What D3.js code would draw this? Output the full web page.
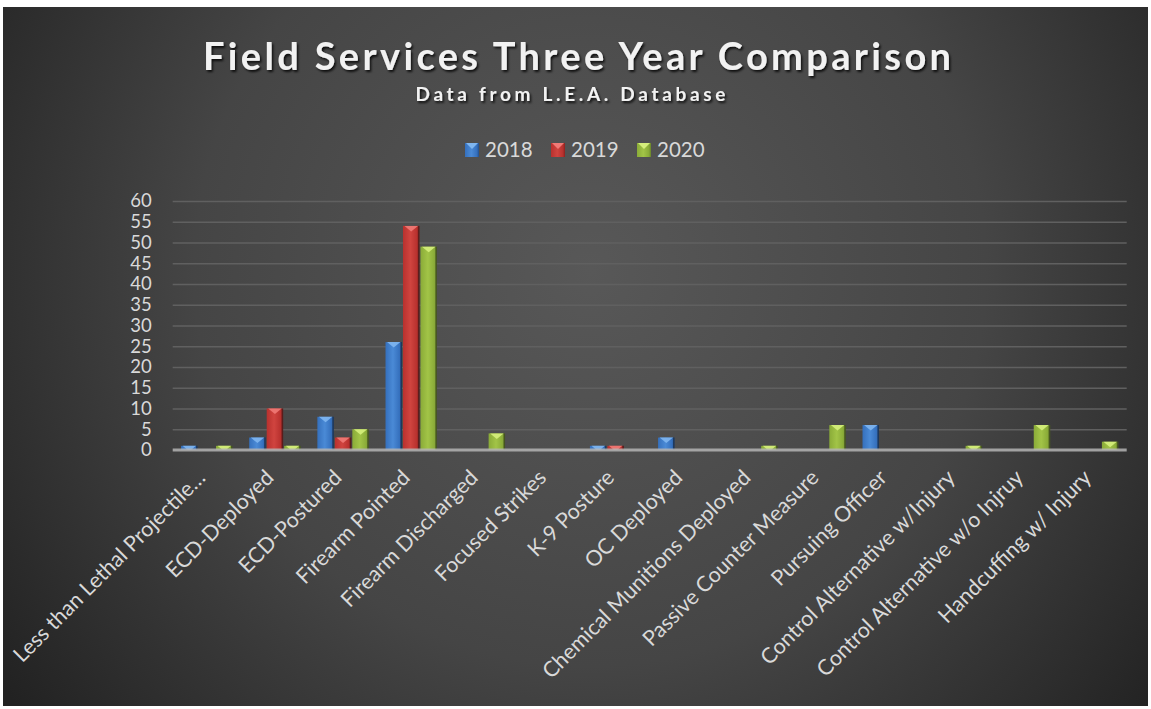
<!DOCTYPE html>
<html>
<head>
<meta charset="utf-8">
<script src="https://cdn.jsdelivr.net/npm/d3@7"></script>
<style>
  body { margin: 0; background: #ffffff; }
  svg text { font-family: Lato, "Open Sans", sans-serif; }
</style>
</head>
<body>
<div id="chart"></div>
<script>
// data
const categories = [
	"Less than Lethal Projectile\u2026", "ECD-Deployed", "ECD-Postured", "Firearm Pointed",
	"Firearm Discharged", "Focused Strikes", "K-9 Posture", "OC Deployed",
	"Chemical Munitions Deployed", "Passive Counter Measure", "Pursuing Officer",
	"Control Alternative w/Injury", "Control Alternative w/o Injruy", "Handcuffing w/ Injury"
]
const years = ["2018", "2019", "2020"]
const values2018 = [1, 3, 8, 26, 0, 0, 1, 3, 0, 0, 6, 0, 0, 0]
const values2019 = [0, 10, 3, 54, 0, 0, 1, 0, 0, 0, 0, 0, 0, 0]
const values2020 = [1, 1, 5, 49, 4, 0, 0, 0, 1, 6, 0, 1, 6, 2]
const yTickValues = [0, 5, 10, 15, 20, 25, 30, 35, 40, 45, 50, 55, 60]

const W = 1151, H = 709
const PLOT = { LEFT: 172.7, RIGHT: 1126.7, TOP: 201, BOTTOM: 450 }

// colours per series: dark edge, base, light centre, top face
const COLORS = {
	"2018": { dark: "#234f8c", base: "#3570bd", light: "#4a8ad6", top: "#7fb6f0" },
	"2019": { dark: "#8a2220", base: "#b8312e", light: "#d0443f", top: "#f07a76" },
	"2020": { dark: "#68832a", base: "#8aab38", light: "#a2c447", top: "#d6ef7c" }
}

const seriesByYear = { "2018": values2018, "2019": values2019, "2020": values2020 }
const rows = categories.map((c, i) => ({
	cat: c,
	vals: years.map(y => ({ year: y, value: seriesByYear[y][i] }))
}))

const svg = d3.select("#chart").append("svg")
	.attr("width", W)
	.attr("height", H)

const defs = svg.append("defs")

const bg = defs.append("radialGradient")
	.attr("id", "bg")
	.attr("gradientUnits", "userSpaceOnUse")
	.attr("cx", 590).attr("cy", 270).attr("r", 720)
bg.append("stop").attr("offset", "0%").attr("stop-color", "#585858")
bg.append("stop").attr("offset", "55%").attr("stop-color", "#454545")
bg.append("stop").attr("offset", "100%").attr("stop-color", "#222222")

years.forEach(y => {
	const c = COLORS[y]
	const g = defs.append("linearGradient")
		.attr("id", "bar" + y)
		.attr("x1", "0%").attr("x2", "100%").attr("y1", "0%").attr("y2", "0%")
	g.append("stop").attr("offset", "0%").attr("stop-color", c.base)
	g.append("stop").attr("offset", "45%").attr("stop-color", c.light)
	g.append("stop").attr("offset", "85%").attr("stop-color", c.base)
	g.append("stop").attr("offset", "100%").attr("stop-color", c.dark)
})

const shadow = defs.append("filter").attr("id", "shadow")
	.attr("x", "-10%").attr("y", "-30%").attr("width", "120%").attr("height", "160%")
shadow.append("feDropShadow")
	.attr("dx", 1.5).attr("dy", 2).attr("stdDeviation", 1.2)
	.attr("flood-color", "#000").attr("flood-opacity", 0.8)

// card
svg.append("rect")
	.attr("x", 3).attr("y", 7)
	.attr("width", 1145).attr("height", 699)
	.attr("fill", "url(#bg)")

// titles
svg.append("text")
	.attr("x", 577).attr("y", 70)
	.attr("text-anchor", "middle")
	.attr("font-size", 38)
	.attr("font-weight", "bold")
	.attr("fill", "#f2f2f2")
	.attr("textLength", 748)
	.attr("lengthAdjust", "spacing")
	.attr("filter", "url(#shadow)")
	.text("Field Services Three Year Comparison")

svg.append("text")
	.attr("x", 570.5).attr("y", 101)
	.attr("text-anchor", "middle")
	.attr("font-size", 19)
	.attr("font-weight", "bold")
	.attr("fill", "#f2f2f2")
	.attr("textLength", 310)
	.attr("lengthAdjust", "spacing")
	.attr("filter", "url(#shadow)")
	.text("Data from L.E.A. Database")

// scales
const x0 = d3.scaleBand()
	.domain(categories)
	.range([PLOT.LEFT, PLOT.RIGHT])
	.paddingInner(0.215)
	.paddingOuter(0.1075)

const x1 = d3.scaleBand()
	.domain(years)
	.range([0, x0.bandwidth()])
	.padding(0.06)

const y = d3.scaleLinear()
	.domain([0, 60])
	.range([PLOT.BOTTOM, PLOT.TOP])

// gridlines
const grid = svg.append("g")
	.attr("transform", `translate(${PLOT.LEFT},0)`)
	.call(d3.axisLeft(y).tickValues(yTickValues.slice(1)).tickSize(-(PLOT.RIGHT - PLOT.LEFT)).tickFormat(""))
grid.select(".domain").remove()
grid.selectAll("line").attr("stroke", "#606060").attr("stroke-width", 1.5)

// y tick labels
const yAxisG = svg.append("g")
	.attr("transform", `translate(${PLOT.LEFT},0)`)
	.call(d3.axisLeft(y).tickValues(yTickValues).tickSize(0).tickPadding(21))
yAxisG.select(".domain").remove()
yAxisG.selectAll("text")
	.attr("font-size", 18.5)
	.attr("fill", "#d9d9d9")
	.style("font-family", "Lato, sans-serif")

// bars
const groups = svg.selectAll("g.cat")
	.data(rows)
	.enter().append("g")
		.attr("class", "cat")
		.attr("transform", d => `translate(${x0(d.cat)},0)`)

const bars = groups.selectAll("g.bar")
	.data(d => d.vals.filter(v => v.value > 0))
	.enter().append("g")
		.attr("class", "bar")

bars.append("rect")
	.attr("x", d => x1(d.year))
	.attr("y", d => y(d.value))
	.attr("width", x1.bandwidth())
	.attr("height", d => y(0) - y(d.value))
	.attr("fill", d => `url(#bar${d.year})`)

// bevelled top face
const BEVEL = 5.5
bars.append("polygon")
	.attr("points", d => {
		const bx = x1(d.year), bw = x1.bandwidth()
		const top = y(d.value), h = y(0) - top
		const inset = 1.5
		const l = bx + inset, r = bx + bw - inset
		if (h >= BEVEL) {
			return `${l},${top} ${r},${top} ${bx + bw / 2},${top + BEVEL}`
		}
		const k = (r - l) / 2 * (h / BEVEL)
		return `${l},${top} ${r},${top} ${r - k},${top + h} ${l + k},${top + h}`
	})
	.attr("fill", d => COLORS[d.year].top)
	.attr("opacity", 0.9)

bars.append("line")
	.attr("x1", d => x1(d.year) + x1.bandwidth() - 0.75)
	.attr("x2", d => x1(d.year) + x1.bandwidth() - 0.75)
	.attr("y1", d => y(d.value))
	.attr("y2", y(0))
	.attr("stroke", "#111")
	.attr("stroke-opacity", 0.45)
	.attr("stroke-width", 1.5)

// baseline
svg.append("line")
	.attr("x1", PLOT.LEFT).attr("x2", PLOT.RIGHT)
	.attr("y1", y(0)).attr("y2", y(0))
	.attr("stroke", "#b4b4b4")
	.attr("stroke-opacity", 0.85)
	.attr("stroke-width", 3)

// x labels
svg.append("g").selectAll("text")
	.data(categories)
	.enter().append("text")
		.attr("transform", d => `translate(${x0(d) + x0.bandwidth() / 2},${y(0) + 29}) rotate(-45)`)
		.attr("text-anchor", "end")
		.attr("font-size", 21.5)
		.attr("fill", "#d9d9d9")
		.text(d => d)

// legend
const legendX = [465, 551, 637]
const legend = svg.append("g").selectAll("g")
	.data(years)
	.enter().append("g")
		.attr("transform", (d, i) => `translate(${legendX[i]},143)`)

legend.append("rect")
	.attr("width", 14).attr("height", 14)
	.attr("fill", d => `url(#bar${d})`)
legend.append("polygon")
	.attr("points", "1,0 13,0 7,6")
	.attr("fill", d => COLORS[d].top)
legend.append("text")
	.attr("x", 20).attr("y", 14)
	.attr("font-size", 20.5)
	.attr("fill", "#d9d9d9")
	.text(d => d)
</script>
</body>
</html>
